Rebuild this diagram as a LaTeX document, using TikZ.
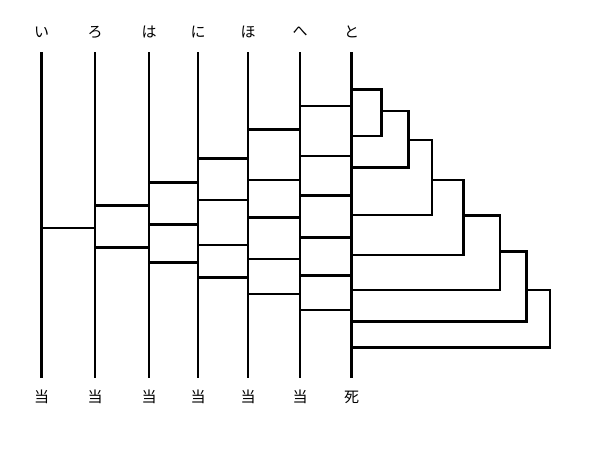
\documentclass[tikz,border=0pt]{standalone}
\usepackage{fontspec}
\newfontfamily\jpfont{Noto Sans CJK JP}
\begin{document}
\begin{tikzpicture}[
    x=1pt, y=-1pt,
    rung/.style={line width=2.8pt, line join=miter},
    kana/.style={font=\jpfont\fontsize{15}{15}\selectfont, inner sep=0pt}
]
    \useasboundingbox (0,0) rectangle (600,450);
    % vertical lines with names
    \foreach \i/\x/\t/\b in {1/41.7/い/当, 2/95/ろ/当, 3/149/は/当, 4/198/に/当,
                             5/248/ほ/当, 6/300/へ/当, 7/351.7/と/死} {
        \node[kana] (top\i) at (\x,32) {\t};
        \node[kana] (bot\i) at (\x,397) {\b};
        \coordinate (a\i) at (\x,52);
        \coordinate (z\i) at (\x,378);
        \draw[rung] (a\i) -- (z\i);
    }
    % rungs
    \foreach \i/\j/\y in {1/2/228, 2/3/205.7, 2/3/247.7,
                          3/4/182.7, 3/4/224.3, 3/4/262.7,
                          4/5/158.3, 4/5/200, 4/5/245, 4/5/277.7,
                          5/6/129.3, 5/6/180, 5/6/217.7, 5/6/259, 5/6/294,
                          6/7/106, 6/7/156, 6/7/195.7, 6/7/237.7, 6/7/275.7, 6/7/310} {
        \draw[rung] (a\i |- 0,\y) -- (a\j |- 0,\y);
    }
    % brackets to the right
    \foreach \s/\t/\e/\b in {351.7/89.3/381.7/136, 381.7/111/408.3/167.7,
                             408.3/140/432/215, 432/180/463.3/255,
                             463.3/215.7/500/290, 500/251.7/526.7/321.7,
                             526.7/290/550/347.3} {
        \draw[rung] (\s,\t) -| (\e,\b) -- (a7 |- 0,\b);
    }
\end{tikzpicture}
\end{document}
